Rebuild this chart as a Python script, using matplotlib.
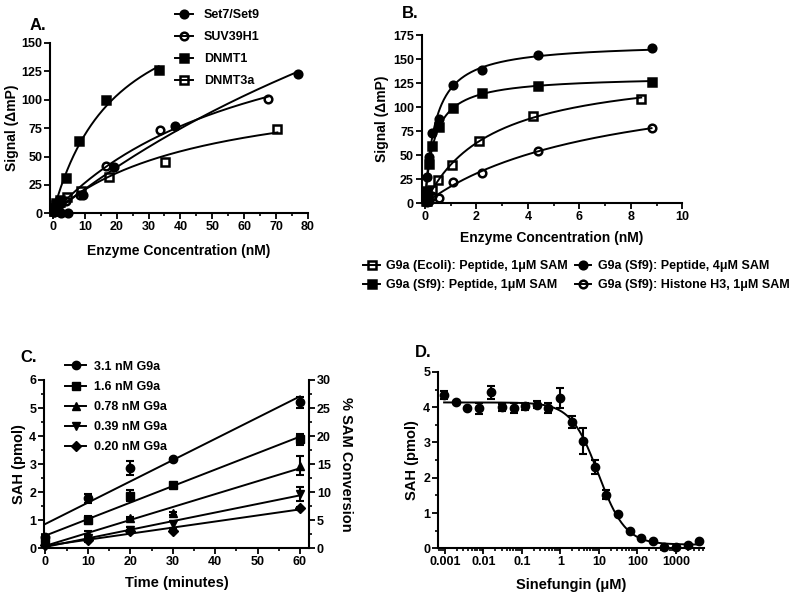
import numpy as np
import matplotlib
matplotlib.use('Agg')
import matplotlib.pyplot as plt
from matplotlib.ticker import MultipleLocator, LogLocator, NullFormatter

plt.rcParams['font.family'] = ['Liberation Sans', 'DejaVu Sans']
plt.rcParams['font.weight'] = 'bold'
plt.rcParams['axes.labelweight'] = 'bold'

# ---- Panel A: enzyme titrations ----
set7_x = [0.3, 0.6, 1.2, 2.4, 4.8, 9.6, 19.2, 38.4, 76.8]
set7_y = [1, 3, 2, 0, 0, 16, 41, 77, 123]
suv_x = [0.26, 0.52, 1.05, 2.1, 4.2, 8.4, 16.8, 33.6, 67.5]
suv_y = [1, 3, 5, 8, 11, 16, 42, 73, 101]
dnmt1_x = [0.26, 0.52, 1.04, 2.08, 4.15, 8.3, 16.6, 33.2]
dnmt1_y = [2, 5, 9, 12, 31, 64, 100, 126]
dnmt3a_x = [0.27, 0.55, 1.1, 2.2, 4.4, 8.8, 17.6, 35.2, 70.4]
dnmt3a_y = [2, 4, 7, 10, 14, 20, 32, 45, 74]

# ---- Panel B: G9a titrations ----
b_x = [0.034, 0.069, 0.14, 0.27, 0.55, 1.1, 2.2, 4.4, 8.8]
sf9_4um_y = [6, 27, 48, 73, 88, 123, 139, 154, 162]
sf9_1um_y = [3, 13, 41, 60, 79, 99, 115, 122, 126]
ecoli_x = [0.066, 0.13, 0.26, 0.52, 1.05, 2.1, 4.2, 8.4]
ecoli_y = [2, 6, 14, 24, 40, 65, 91, 109]
h3_x = [0.069, 0.14, 0.27, 0.55, 1.1, 2.2, 4.4, 8.8]
h3_y = [1, 3, 8, 6, 22, 32, 55, 78]

# ---- Panel C: time course ----
time_min = [0, 10, 20, 30, 60]
c_labels = ['3.1 nM G9a', '1.6 nM G9a', '0.78 nM G9a', '0.39 nM G9a', '0.20 nM G9a']
c_vals = [[0.39, 1.78, 2.87, 3.2, 5.2],
          [0.3, 1.0, 1.87, 2.27, 3.88],
          [0.2, 0.5, 1.07, 1.25, 2.95],
          [0.12, 0.35, 0.65, 0.85, 1.95],
          [0.1, 0.3, 0.6, 0.62, 1.42]]
c_errs = [[0.08, 0.15, 0.25, 0.03, 0.2],
          [0.08, 0.15, 0.2, 0.03, 0.2],
          [0.05, 0.1, 0.03, 0.05, 0.35],
          [0.05, 0.12, 0.1, 0.12, 0.25],
          [0.03, 0.05, 0.05, 0.05, 0.05]]
c_markers = ['o', 's', '^', 'v', 'D']

# ---- Panel D: sinefungin inhibition ----
sinef_x = [0.00095, 0.0019, 0.0038, 0.0076, 0.0153, 0.0305, 0.061, 0.122,
           0.244, 0.488, 0.977, 1.95, 3.9, 7.8, 15.6, 31.25, 62.5, 125,
           250, 500, 1000, 2000, 4000]
sah_y = [4.34, 4.16, 3.99, 3.97, 4.42, 4.0, 3.98, 4.03, 4.07, 3.98, 4.25,
         3.59, 3.05, 2.3, 1.52, 0.97, 0.48, 0.28, 0.2, 0.05, 0.03, 0.09, 0.22]
sah_err = [0.12, 0, 0, 0.15, 0.18, 0.1, 0.15, 0.1, 0.1, 0.15, 0.28, 0.17,
           0.37, 0.2, 0.13, 0, 0, 0, 0, 0, 0, 0, 0]


def fit_hyperbola(x, y):
    """least squares fit of y = B*x/(K+x), grid over K"""
    x = np.asarray(x, float)
    y = np.asarray(y, float)
    best = None
    for k in np.logspace(-2, 3, 1500):
        f = x / (k + x)
        b = (f @ y) / (f @ f)
        r = np.sum((y - b * f) ** 2)
        if best is None or r < best[0]:
            best = (r, b, k)
    return best[1], best[2]


def fit_4pl(x, y):
    x = np.asarray(x, float)
    y = np.asarray(y, float)
    best = None
    for lc in np.linspace(-1, 2, 301):
        for h in np.linspace(0.5, 2.5, 81):
            f = 1 / (1 + (x / 10 ** lc) ** h)
            A = np.column_stack([np.ones_like(f), f])
            coef, *_ = np.linalg.lstsq(A, y, rcond=None)
            r = np.sum((A @ coef - y) ** 2)
            if best is None or r < best[0]:
                best = (r, coef, lc, h)
    return best[1], best[2], best[3]


def prism_axis(ax):
    for s in ['top', 'right']:
        ax.spines[s].set_visible(False)
    for s in ['left', 'bottom']:
        ax.spines[s].set_linewidth(1.5)
    ax.tick_params(which='major', length=4, width=1.3, labelsize=9, pad=1.5)
    ax.tick_params(which='minor', length=2.5, width=1.2)
    for lbl in ax.get_xticklabels() + ax.get_yticklabels():
        lbl.set_fontweight('bold')


fig = plt.figure(figsize=(8, 6), dpi=100)
lw = 1.4
ms = 5.5
mew = 1.8

# ---------------- A ----------------
axA = fig.add_axes([0.0625, 0.6445, 0.3225, 0.284])
seriesA = [(set7_x, set7_y, 'o', 'k', 'Set7/Set9'),
           (suv_x, suv_y, 'o', 'none', 'SUV39H1'),
           (dnmt1_x, dnmt1_y, 's', 'k', 'DNMT1'),
           (dnmt3a_x, dnmt3a_y, 's', 'none', 'DNMT3a')]
for x, y, m, fc, lab in seriesA:
    B, K = fit_hyperbola(x, y)
    xx = np.linspace(0, max(x), 200)
    axA.plot(xx, B * xx / (K + xx), color='k', lw=lw)
    axA.plot(x, y, ls='none', marker=m, mfc=fc, mec='k', ms=ms, mew=mew, clip_on=False)
    axA.plot([], [], color='k', lw=lw, marker=m, mfc=fc, mec='k', ms=ms, mew=mew, label=lab)
axA.set_xlim(-0.9, 80)
axA.set_ylim(0, 150)
axA.xaxis.set_major_locator(MultipleLocator(10))
axA.xaxis.set_minor_locator(MultipleLocator(5))
axA.yaxis.set_major_locator(MultipleLocator(25))
axA.set_xlabel('Enzyme Concentration (nM)', fontsize=10, labelpad=8)
axA.set_ylabel('Signal (\u0394mP)', fontsize=10, labelpad=2)
prism_axis(axA)
axA.legend(loc='upper left', bbox_to_anchor=(0.213, 0.993), bbox_transform=fig.transFigure,
           frameon=False, fontsize=9, handlelength=1.4, handletextpad=0.9,
           labelspacing=0.8, borderaxespad=0)
fig.text(0.037, 0.958, 'A.', fontsize=12, fontweight='bold', va='center')

# ---------------- B ----------------
axB = fig.add_axes([0.527, 0.661, 0.326, 0.2805])
seriesB = [(ecoli_x, ecoli_y, 's', 'none', 'G9a (Ecoli): Peptide, 1\u03bcM SAM'),
           (b_x, sf9_1um_y, 's', 'k', 'G9a (Sf9): Peptide, 1\u03bcM SAM'),
           (b_x, sf9_4um_y, 'o', 'k', 'G9a (Sf9): Peptide, 4\u03bcM SAM'),
           (h3_x, h3_y, 'o', 'none', 'G9a (Sf9): Histone H3, 1\u03bcM SAM')]
for x, y, m, fc, lab in seriesB:
    B, K = fit_hyperbola(x, y)
    xx = np.linspace(0, max(x), 300)
    axB.plot(xx, B * xx / (K + xx), color='k', lw=lw)
    axB.plot(x, y, ls='none', marker=m, mfc=fc, mec='k', ms=ms, mew=mew, clip_on=False)
    axB.plot([], [], color='k', lw=lw, marker=m, mfc=fc, mec='k', ms=ms, mew=mew, label=lab)
axB.set_xlim(-0.13, 10)
axB.set_ylim(0, 175)
axB.xaxis.set_major_locator(MultipleLocator(2))
axB.xaxis.set_minor_locator(MultipleLocator(1))
axB.yaxis.set_major_locator(MultipleLocator(25))
axB.set_xlabel('Enzyme Concentration (nM)', fontsize=10, labelpad=6)
axB.set_ylabel('Signal (\u0394mP)', fontsize=10, labelpad=3)
prism_axis(axB)
axB.legend(loc='upper left', bbox_to_anchor=(0.448, 0.575), bbox_transform=fig.transFigure,
           ncol=2, frameon=False, fontsize=9, handlelength=1.3, handletextpad=0.5,
           labelspacing=0.55, columnspacing=0.6, borderaxespad=0)
fig.text(0.502, 0.977, 'B.', fontsize=12, fontweight='bold', va='center')

# ---------------- C ----------------
axC = fig.add_axes([0.055, 0.0862, 0.3316, 0.2805])
for y, e, m, lab in zip(c_vals, c_errs, c_markers, c_labels):
    slope, icpt = np.polyfit(time_min, y, 1)
    xx = np.array([0, 60])
    axC.plot(xx, slope * xx + icpt, color='k', lw=lw)
    msz = 5 if m == 'D' else 6
    axC.errorbar(time_min, y, yerr=e, fmt=m, color='k', mfc='k', ms=msz,
                 capsize=3, capthick=1.5, elinewidth=1.5, clip_on=False)
    axC.plot([], [], color='k', lw=lw, marker=m, mfc='k', mec='k', ms=msz, label=lab)
axC.set_xlim(-0.35, 62.2)
axC.set_ylim(0, 6)
axC.xaxis.set_major_locator(MultipleLocator(10))
axC.xaxis.set_minor_locator(MultipleLocator(5))
axC.yaxis.set_major_locator(MultipleLocator(1))
axC.yaxis.set_minor_locator(MultipleLocator(0.5))
axC.set_xlabel('Time (minutes)', fontsize=10.5, labelpad=6)
axC.set_ylabel('SAH (pmol)', fontsize=10.5, labelpad=2)
prism_axis(axC)
axC2 = axC.twinx()
axC2.set_ylim(0, 30)
axC2.yaxis.set_major_locator(MultipleLocator(5))
axC2.yaxis.set_minor_locator(MultipleLocator(2.5))
for s in ['top', 'left', 'bottom']:
    axC2.spines[s].set_visible(False)
axC2.spines['right'].set_linewidth(1.5)
axC2.tick_params(which='major', length=4, width=1.3, labelsize=9, pad=1.5)
axC2.tick_params(which='minor', length=2.5, width=1.2)
axC2.set_ylabel('% SAM Conversion', fontsize=10.5, rotation=270, labelpad=16)
axC.legend(loc='upper left', bbox_to_anchor=(0.075, 0.407), bbox_transform=fig.transFigure,
           frameon=False, fontsize=9, handlelength=1.7, handletextpad=0.6,
           labelspacing=0.65, borderaxespad=0)
fig.text(0.025, 0.405, 'C.', fontsize=12, fontweight='bold', va='center')

# ---------------- D ----------------
axD = fig.add_axes([0.5475, 0.0862, 0.3325, 0.294])
coef, lc, h = fit_4pl(sinef_x, sah_y)
xx = np.logspace(np.log10(sinef_x[0]), np.log10(sinef_x[-1]), 300)
axD.plot(xx, coef[0] + coef[1] / (1 + (xx / 10 ** lc) ** h), color='k', lw=lw)
axD.errorbar(sinef_x, sah_y, yerr=sah_err, fmt='o', color='k', ms=6,
             capsize=3, capthick=1.5, elinewidth=1.5, clip_on=False)
axD.set_xscale('log')
axD.set_xlim(0.00066, 5340)
axD.set_ylim(0, 5)
axD.xaxis.set_minor_locator(LogLocator(base=10, subs=np.arange(2, 10), numticks=12))
axD.xaxis.set_minor_formatter(NullFormatter())
axD.set_xticks([0.001, 0.01, 0.1, 1, 10, 100, 1000])
axD.set_xticklabels(['0.001', '0.01', '0.1', '1', '10', '100', '1000'])
axD.yaxis.set_major_locator(MultipleLocator(1))
axD.yaxis.set_minor_locator(MultipleLocator(0.5))
axD.set_xlabel('Sinefungin (\u03bcM)', fontsize=10.5, labelpad=7)
axD.set_ylabel('SAH (pmol)', fontsize=10.5, labelpad=3)
prism_axis(axD)
fig.text(0.518, 0.413, 'D.', fontsize=12, fontweight='bold', va='center')

fig.savefig('out.png', dpi=100)
